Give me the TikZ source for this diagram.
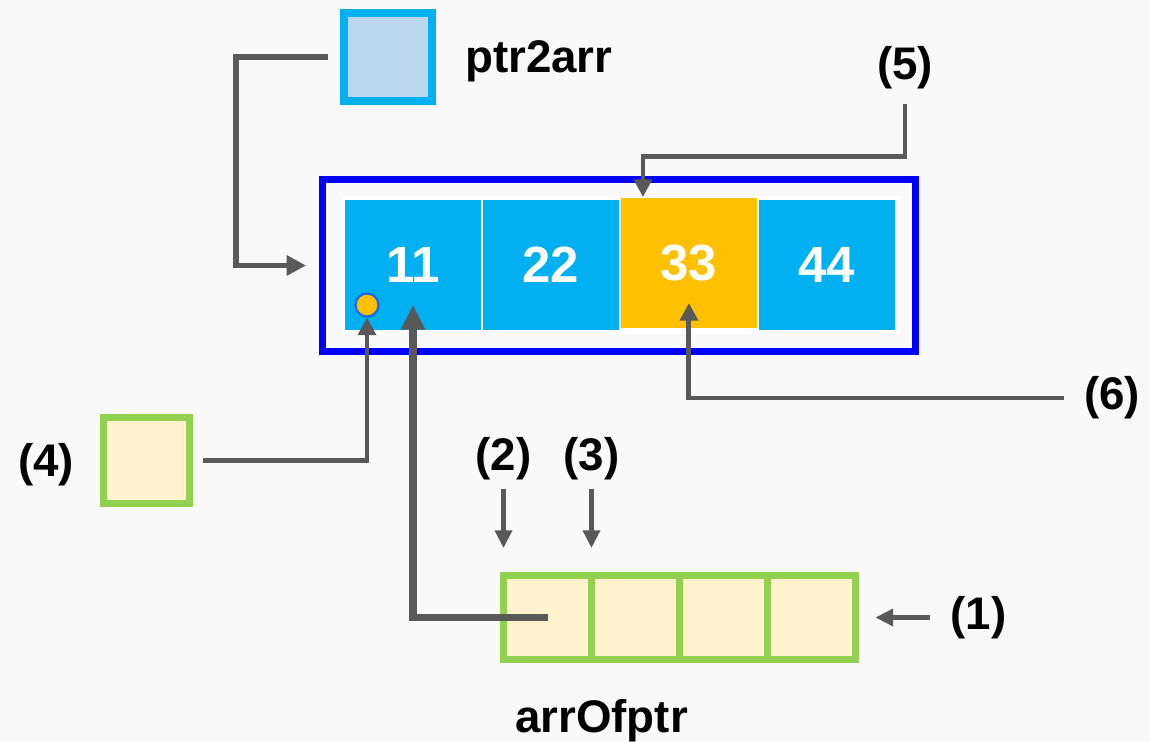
\documentclass[tikz,border=0pt]{standalone}
\usepackage{fontspec}
\setmainfont{Liberation Sans}
\usetikzlibrary{positioning,arrows.meta}

\definecolor{bggray}{HTML}{F9F9F9}
\definecolor{linegray}{HTML}{595959}
\definecolor{cellblue}{HTML}{00B0F0}
\definecolor{cellorange}{HTML}{FFC000}
\definecolor{ptrfill}{HTML}{BDD7EE}
\definecolor{slotgreen}{HTML}{92D050}
\definecolor{slotfill}{HTML}{FFF2CC}
\definecolor{dotedge}{HTML}{1E64F0}

\tikzset{
  lbl/.style={font=\fontsize{26}{30}\selectfont\bfseries, inner sep=0pt},
  cell/.style={fill=cellblue, draw=white, line width=1.2pt, outer sep=0pt,
    minimum width=2.76cm, minimum height=2.64cm, text=white,
    font=\fontsize{29}{33}\selectfont\bfseries},
  slot/.style={fill=slotfill, draw=slotgreen, line width=4pt, outer sep=0pt,
    minimum width=1.76cm, minimum height=1.68cm},
  thinptr/.style={draw=linegray, line width=2.3pt, -{Triangle[length=10pt,width=9.5pt]}},
  ptrline/.style={draw=linegray, line width=2.8pt, -{Triangle[length=10pt,width=10pt]}},
  bigptr/.style={draw=linegray, line width=4.4pt, -{Triangle[length=14pt,width=13pt]}},
}

\begin{document}
\begin{tikzpicture}[x=0.02cm,y=-0.02cm]

  \useasboundingbox (0,0) rectangle (1150,742);
  \fill[bggray] (0,0) rectangle (1150,742);

  % Nodes

  \node[fill=ptrfill, draw=cellblue, line width=4.5pt, minimum size=1.76cm] (ptrbox) at (388,57) {};
  \node[lbl, right=0.58cm of ptrbox, yshift=-0.08cm] (ptrname) {ptr2arr};

  \node[draw=blue, line width=4pt, minimum width=11.86cm, minimum height=3.44cm] (frame) at (619,265.5) {};
  \node[fill=white, minimum width=11.16cm, minimum height=2.76cm] (panel) at (621,265) {};
  \node[cell] (c1) at (413,265) {11};
  \node[cell, right=0pt of c1] (c2) {22};
  \node[cell, right=0pt of c2, fill=cellorange, yshift=0.04cm] (c3) {33};
  \node[cell, right=0pt of c3, yshift=-0.04cm] (c4) {44};
  \node[circle, fill=cellorange, draw=dotedge, line width=1.2pt, minimum size=0.46cm, inner sep=0pt] (dot) at (367,305) {};

  % More nodes
  \node[slot, minimum size=1.72cm] (box4) at (146.5,460.5) {};
  \node[lbl, left=0.58cm of box4, yshift=-0.08cm] (lbl4) {(4)};

  \node[slot] (s1) at (547.5,617.5) {};
  \node[slot, right=0pt of s1] (s2) {};
  \node[slot, right=0pt of s2] (s3) {};
  \node[slot, right=0pt of s3] (s4) {};
  \node[lbl, below=0.8cm of s2.south west, xshift=0.2cm] (arrname) {arrOfptr};

  \node[lbl, right=1.9cm of s4] (lbl1) {(1)};
  \node[lbl, above=1.9cm of s1.north west] (lbl2) {(2)};
  \node[lbl, above=1.9cm of s2.north west] (lbl3) {(3)};
  \node[lbl] (lbl5) at (905,68) {(5)};
  \node[lbl] (lbl6) at (1112,398) {(6)};

  % Pointers

  \draw[ptrline, line width=3.4pt, -{Triangle[length=11pt,width=11pt]}]
    ([xshift=-0.24cm]ptrbox.west) -- ++(-92,0) |- ([xshift=-0.26cm]frame.west);
  \draw[bigptr] (s1.center) -| ([yshift=-0.8cm]c1.center);
  \draw[ptrline] ([xshift=0.28cm]box4.east) -| (dot.south);
  \draw[ptrline] ([yshift=-0.28cm]lbl5.south) -- ++(0,53) -| ([xshift=-0.92cm]c3.north);
  \draw[ptrline] ([xshift=-0.4cm]lbl6.west) -| ([yshift=-0.8cm]c3.center);

  \draw[thinptr] ([xshift=-0.4cm]lbl1.west) -- ([xshift=0.4cm]s4.east);
  \draw[thinptr] ([yshift=-0.16cm]lbl2.south) -- ([yshift=0.55cm]s1.north west);
  \draw[thinptr] ([yshift=-0.16cm]lbl3.south) -- ([yshift=0.55cm]s2.north west);

\end{tikzpicture}
\end{document}
